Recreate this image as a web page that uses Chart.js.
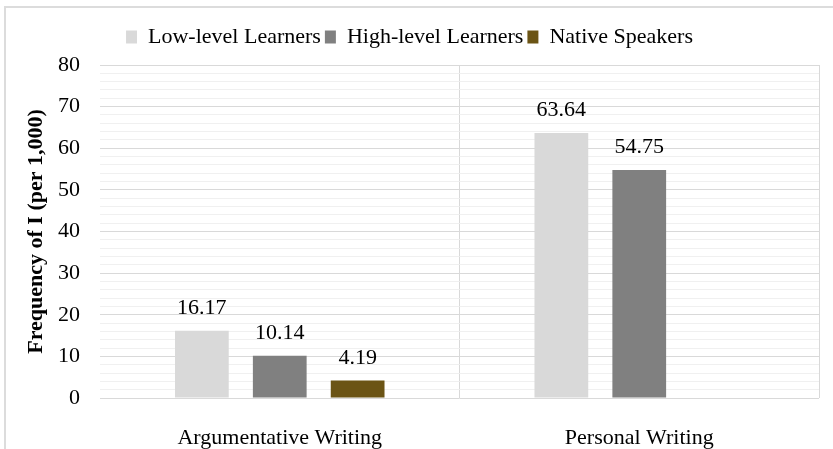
<html>
<head>
<title>Frequency of I</title>
<style type="text/css">
body { margin: 0; background: #fff; }
#wrap { position: relative; width: 833px; height: 449px; }
#frame {
	position: absolute; left: 4px; top: 6px; right: -10px; bottom: -10px;
	border-left: 2px solid #dcdcdc; border-top: 2px solid #dcdcdc;
}
canvas { position: absolute; left: 0; top: 0; }
</style>
<script src="https://cdn.jsdelivr.net/npm/chart.js"></script>
<script>
const categories = ['Argumentative Writing', 'Personal Writing'];
const lowLevel = [16.17, 63.64];
const highLevel = [10.14, 54.75];
const native = [4.19, null];
const seriesNames = ['Low-level Learners', 'High-level Learners', 'Native Speakers'];

const FONT = 'Liberation Serif, Times New Roman, serif';

// adds room under the legend
const legendGap = {
	id: 'legendGap',
	beforeInit(chart) {
		const fit = chart.legend.fit;
		chart.legend.fit = function () {
			fit.bind(chart.legend)();
			this.height += 7;
		};
	}
};

// values above bars
const barValues = {
	id: 'barValues',
	afterDatasetsDraw(chart) {
		const ctx = chart.ctx;
		ctx.save();
		ctx.font = '22px ' + FONT;
		ctx.fillStyle = '#000';
		ctx.textAlign = 'center';
		ctx.textBaseline = 'alphabetic';
		chart.data.datasets.forEach((ds, i) => {
			const meta = chart.getDatasetMeta(i);
			meta.data.forEach((bar, j) => {
				const v = ds.data[j];
				if (v === null || v === undefined) return;
				ctx.fillText(v.toFixed(2), bar.x, bar.y - 17);
			});
		});
		ctx.restore();
	}
};

function load()
{
	new Chart(document.getElementById('chart'), {
		type: 'bar',
		data: {
			labels: categories,
			datasets: [
				{ label: seriesNames[0], data: lowLevel, backgroundColor: '#d9d9d9' },
				{ label: seriesNames[1], data: highLevel, backgroundColor: '#808080' },
				{ label: seriesNames[2], data: native, backgroundColor: '#6b5415' }
			]
		},
		options: {
			responsive: true,
			maintainAspectRatio: false,
			animation: false,
			categoryPercentage: 0.65,
			barPercentage: 0.69,
			layout: { padding: { top: 22, right: 14, left: 0, bottom: 0 } },
			plugins: {
				tooltip: { enabled: false },
				legend: {
					position: 'top',
					labels: {
						font: { family: FONT, size: 22 },
						color: '#000',
						boxWidth: 11,
						boxHeight: 13,
						padding: 4
					}
				}
			},
			scales: {
				x: {
					afterFit(scale) { scale.height = 51; },
					grid: {
						offset: true,
						drawTicks: false,
						color: (c) => c.index === 0 ? 'rgba(0,0,0,0)' : '#d9d9d9',
						lineWidth: 1
					},
					border: { display: false },
					ticks: {
						font: { family: FONT, size: 22 },
						color: '#000',
						padding: 27
					}
				},
				y: {
					min: 0,
					max: 80,
					afterFit(scale) { scale.width = 100; },
					grid: {
						drawTicks: false,
						color: (c) => (c.tick && c.tick.value % 10 === 0) ? '#d9d9d9' : '#f0f0f0'
					},
					border: { display: false },
					ticks: {
						stepSize: 2,
						autoSkip: false,
						padding: 20,
						font: { family: FONT, size: 22 },
						color: '#000',
						callback: (v) => v % 10 === 0 ? v : ''
					},
					title: {
						display: true,
						text: 'Frequency of I (per 1,000)',
						font: { family: FONT, size: 22, weight: 'bold' },
						color: '#000',
						padding: { top: 23, bottom: 0 }
					}
				}
			}
		},
		plugins: [legendGap, barValues]
	});
}
</script>
</head>
<body onload='load();'>
<div id='wrap'>
	<div id='frame'></div>
	<canvas id='chart' width='833' height='449'></canvas>
</div>
</body>
</html>
